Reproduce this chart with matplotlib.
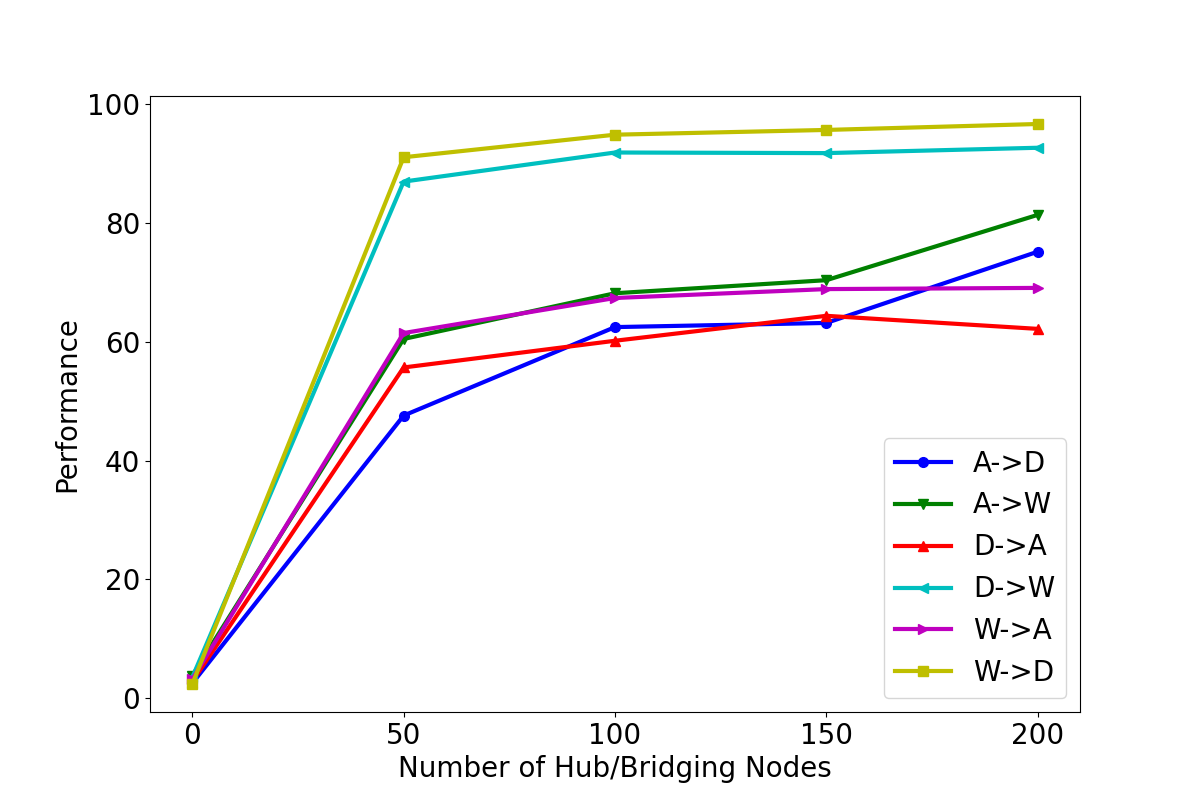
import matplotlib
matplotlib.use("Agg")
import matplotlib.pyplot as plt

nodes = [0, 50, 100, 150, 200]
a_d = [2.5, 47.6, 62.5, 63.2, 75.2]
a_w = [3.8, 60.5, 68.2, 70.4, 81.4]
d_a = [2.8, 55.7, 60.2, 64.4, 62.2]
d_w = [3.5, 87.0, 91.9, 91.8, 92.7]
w_a = [3.2, 61.5, 67.4, 68.9, 69.1]
w_d = [2.4, 91.1, 94.9, 95.7, 96.7]

plt.rcParams['font.size'] = 20
fig = plt.figure(figsize=(12, 8), dpi=100)
ax = plt.gca()

# colour, marker, label
series = [
    (a_d, 'b', 'o', 'A->D'),
    (a_w, 'g', 'v', 'A->W'),
    (d_a, 'r', '^', 'D->A'),
    (d_w, 'c', '<', 'D->W'),
    (w_a, 'm', '>', 'W->A'),
    (w_d, 'y', 's', 'W->D'),
]
for vals, c, m, lab in series:
    ax.plot(nodes, vals, color=c, marker=m, linewidth=3, markersize=7, label=lab)

ax.set_xticks(nodes)
ax.set_xlabel("Number of Hub/Bridging Nodes")
ax.set_ylabel("Performance")
ax.legend(loc='lower right')

fig.savefig("out.png")
